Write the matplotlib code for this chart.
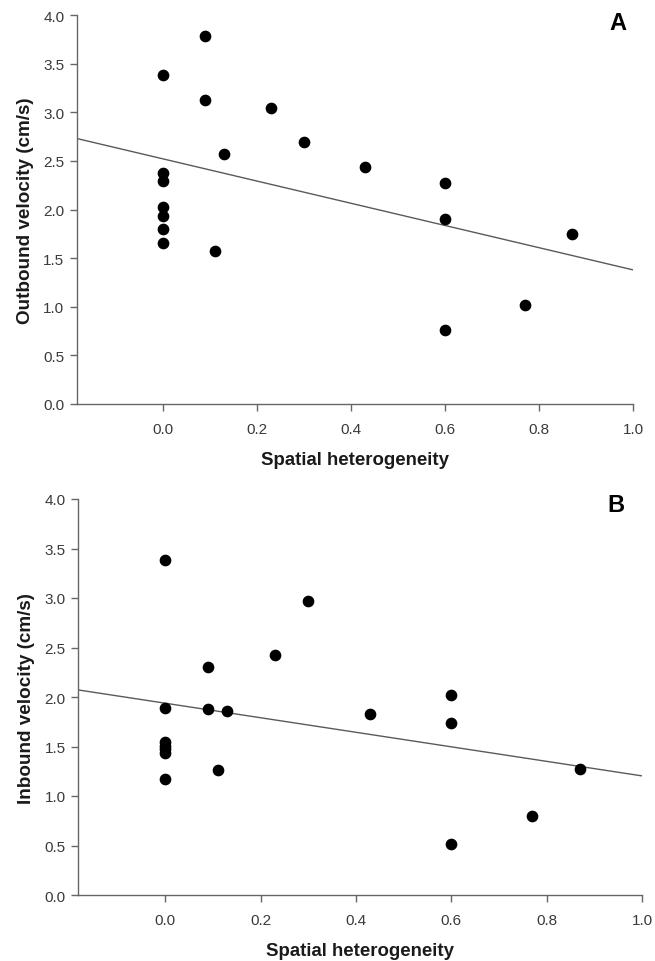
import numpy as np
import matplotlib
matplotlib.use("Agg")
import matplotlib.pyplot as plt

plt.rcParams['font.family'] = ['Liberation Sans', 'DejaVu Sans']

# Panel A: outbound velocity
het_a = [0.0, 0.0, 0.0, 0.0, 0.0, 0.0, 0.0, 0.09, 0.09, 0.11, 0.13, 0.23, 0.30, 0.43,
         0.60, 0.60, 0.60, 0.77, 0.87]
out_vel = [3.38, 2.38, 2.29, 2.03, 1.93, 1.80, 1.66, 3.78, 3.13, 1.57, 2.57, 3.04, 2.69, 2.44,
           2.27, 1.90, 0.76, 1.02, 1.75]

# Panel B: inbound velocity
het_b = [0.0, 0.0, 0.0, 0.0, 0.0, 0.0, 0.0, 0.09, 0.09, 0.11, 0.13, 0.23, 0.30, 0.43,
         0.60, 0.60, 0.60, 0.77, 0.87]
in_vel = [3.38, 1.89, 1.55, 1.51, 1.47, 1.43, 1.17, 2.30, 1.88, 1.26, 1.86, 2.42, 2.97, 1.83,
          2.02, 1.74, 0.52, 0.80, 1.27]

x_ticks = [0.0, 0.2, 0.4, 0.6, 0.8, 1.0]
y_ticks = [0.0, 0.5, 1.0, 1.5, 2.0, 2.5, 3.0, 3.5, 4.0]
x_label = "Spatial heterogeneity"
y_labels = ["Outbound velocity (cm/s)", "Inbound velocity (cm/s)"]
panel_letters = ["A", "B"]
x_min = -0.183

fig = plt.figure(figsize=(6.55, 9.62), dpi=100)
ax_a = fig.add_axes([77/655, 1-405/962, (633-77)/655, (405-16)/962])
ax_b = fig.add_axes([78/655, 1-896/962, (642-78)/655, (896-500)/962])

spine_col = '#666666'
tick_col = '#3a3a3a'
letter_pos = [(0.973, 0.982), (0.954, 0.985)]
for i, (ax, xs, ys, yl, letter) in enumerate([(ax_a, het_a, out_vel, y_labels[0], panel_letters[0]),
                                               (ax_b, het_b, in_vel, y_labels[1], panel_letters[1])]):
    xs = np.array(xs); ys = np.array(ys)
    ax.plot(xs, ys, 'o', color='black', markersize=7.4, zorder=3)
    slope, intercept = np.polyfit(xs, ys, 1)
    xl = np.array([x_min, 1.0])
    ax.plot(xl, intercept + slope * xl, color='#5a5a5a', linewidth=1.0, zorder=2)
    ax.set_xlim(x_min, 1.0)
    ax.set_ylim(0, 4.0)
    ax.set_xticks(x_ticks)
    ax.set_yticks(y_ticks)
    ax.set_xticklabels([f"{t:.1f}" for t in x_ticks])
    ax.set_yticklabels([f"{t:.1f}" for t in y_ticks])
    for s in ['top', 'right']:
        ax.spines[s].set_visible(False)
    for s in ['left', 'bottom']:
        ax.spines[s].set_color(spine_col)
        ax.spines[s].set_linewidth(1.0)
    ax.tick_params(axis='both', direction='out', length=5, width=1.0, color=spine_col,
                   labelsize=11, labelcolor=tick_col)
    ax.tick_params(axis='x', pad=8)
    ax.tick_params(axis='y', pad=4)
    ax.set_xlabel(x_label, fontsize=13.4, fontweight='bold', color='#1a1a1a', labelpad=10.5)
    ax.set_ylabel(yl, fontsize=13.6, fontweight='bold', color='#1a1a1a', labelpad=7)
    lx, ly = letter_pos[i]
    ax.text(lx, ly, letter, transform=ax.transAxes, fontsize=17, fontweight='bold',
            ha='center', va='center', color='black')

fig.savefig("out.png", dpi=100)
